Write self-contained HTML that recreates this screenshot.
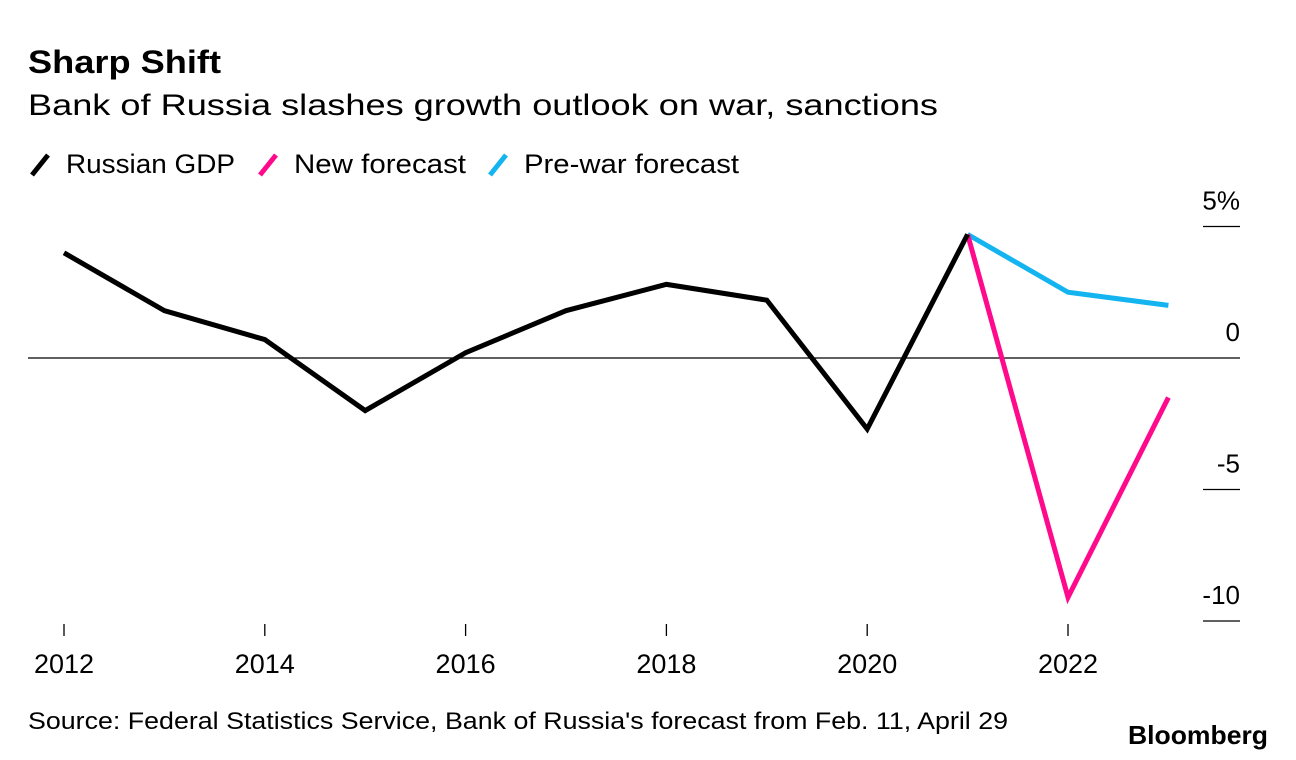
<!DOCTYPE html>
<html><head><meta charset="utf-8"><style>
body{margin:0;background:#fff;font-family:"Liberation Sans",sans-serif;}
svg{display:block}
</style></head><body>
<svg width="1296" height="760" xmlns="http://www.w3.org/2000/svg">
<text x="28" y="73" font-size="32" font-weight="bold" fill="#000" textLength="193" lengthAdjust="spacingAndGlyphs">Sharp Shift</text>
<text x="28" y="115" font-size="30" fill="#000" textLength="910" lengthAdjust="spacingAndGlyphs">Bank of Russia slashes growth outlook on war, sanctions</text>
<g font-size="27">
<line x1="32" y1="175" x2="48" y2="155" stroke="#000" stroke-width="5"/>
<text x="66" y="173" textLength="169" lengthAdjust="spacingAndGlyphs">Russian GDP</text>
<line x1="260" y1="175" x2="276" y2="155" stroke="#ff0a8c" stroke-width="5"/>
<text x="294" y="173" textLength="172" lengthAdjust="spacingAndGlyphs">New forecast</text>
<line x1="490" y1="175" x2="506" y2="155" stroke="#14b4f0" stroke-width="5"/>
<text x="524" y="173" textLength="215" lengthAdjust="spacingAndGlyphs">Pre-war forecast</text>
</g>
<g id="axes"></g>
<g id="marks"></g>
<text x="28" y="729" font-size="24" textLength="980" lengthAdjust="spacingAndGlyphs">Source: Federal Statistics Service, Bank of Russia's forecast from Feb. 11, April 29</text>
<text x="1128" y="744" font-size="26" font-weight="bold" textLength="140" lengthAdjust="spacingAndGlyphs">Bloomberg</text>
</svg>
<script>
const years=[2012,2013,2014,2015,2016,2017,2018,2019,2020,2021];
const gdp=[4.0,1.8,0.7,-2.0,0.2,1.8,2.8,2.2,-2.7,4.7];
const fcYears=[2021,2022,2023];
const newForecast=[4.7,-9.1,-1.5];
const preWar=[4.7,2.5,2.0];
const yTicks=[5,0,-5,-10];
const yTickLabels=["5%","0","-5","-10"];
const xTicks=[2012,2014,2016,2018,2020,2022];
const NS="http://www.w3.org/2000/svg";
const x=v=>64+(v-2012)*100.4;
const y=v=>358-v*26.3;
const axes=document.getElementById('axes'),marks=document.getElementById('marks');
function mk(tag,attrs,parent){const e=document.createElementNS(NS,tag);for(const k in attrs)e.setAttribute(k,attrs[k]);parent.appendChild(e);return e;}
yTicks.forEach((t,i)=>{
 if(t===0){const l=mk('line',{x1:28,x2:1240,y1:y(0),y2:y(0),stroke:'#000','stroke-width':1.3},axes);
  
  }
 else{const l=mk('line',{x1:1203,x2:1240,y1:y(t),y2:y(t),stroke:'#000','stroke-width':1.3},axes);
  
  }
 const tx=mk('text',{x:1240,y:y(t)-17,'font-size':26,'text-anchor':'end'},axes);
 tx.textContent=yTickLabels[i];
 
 
});
xTicks.forEach(t=>{
 const l=mk('line',{x1:x(t),x2:x(t),y1:624,y2:636,stroke:'#000','stroke-width':1.3},axes);
 
 
 const tx=mk('text',{x:x(t),y:673,'font-size':27,'text-anchor':'middle'},axes);
 tx.textContent=t;
 
 
});
function line(xs,vs,color,name){
 const p=mk('polyline',{points:xs.map((v,i)=>x(v)+','+y(vs[i])).join(' '),fill:'none',stroke:color,'stroke-width':5,'stroke-linejoin':'miter'},marks);
 
 
}
line(fcYears,preWar,'#14b4f0','prewar-forecast-line');
line(fcYears,newForecast,'#ff0a8c','new-forecast-line');
line(years,gdp,'#000','gdp-line');
</script>
</body></html>
